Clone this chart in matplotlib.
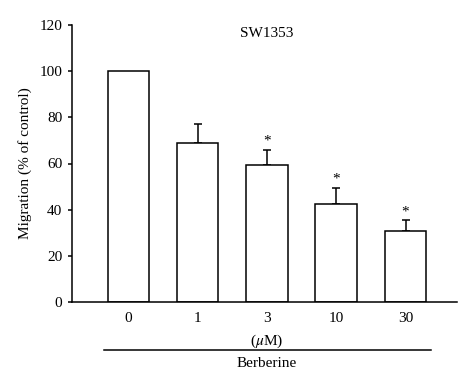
import matplotlib
matplotlib.use('Agg')
import matplotlib.pyplot as plt
import matplotlib.transforms as mtransforms

# Datos
doses = ["0", "1", "3", "10", "30"]
migration = [100, 69, 59.3, 42.6, 30.9]
sem = [0, 8, 6.7, 7, 4.6]
significant = [False, False, True, True, True]

plt.rcParams['font.family'] = ['Liberation Serif', 'DejaVu Serif']
plt.rcParams['mathtext.fontset'] = 'stix'

fs = 11
lw = 1.1

fig = plt.figure(figsize=(4.74, 3.9), dpi=100)
ax = fig.add_axes([72 / 474, 1 - 302 / 390, (457 - 72) / 474, (302 - 25) / 390])

x = list(range(len(doses)))
ax.bar(x, migration, width=0.6, color='white', edgecolor='black', linewidth=lw, zorder=2)
ax.errorbar(x[1:], migration[1:], yerr=[[0] * (len(x) - 1), sem[1:]],
            fmt='none', ecolor='black', elinewidth=lw, capsize=3.2, capthick=lw, zorder=1)

for xi, m, e, s in zip(x, migration, sem, significant):
    if s:
        ax.text(xi, m + e + 0.8, "*", ha='center', va='bottom', fontsize=fs)

ax.set_xlim(-0.814, 4.743)
ax.set_ylim(0, 120)
ax.set_yticks(range(0, 121, 20))
ax.set_xticks(x)
ax.set_xticklabels(doses)
ax.tick_params(axis='x', length=0, pad=7, labelsize=fs)
ax.tick_params(axis='y', length=3, width=lw, pad=4, labelsize=fs, direction='out')
for side in ['top', 'right']:
    ax.spines[side].set_visible(False)
for side in ['left', 'bottom']:
    ax.spines[side].set_linewidth(lw)

ax.set_ylabel("Migration (% of control)", fontsize=fs, labelpad=5)
ax.text(2, 116.5, "SW1353", ha='center', va='center', fontsize=fs)

# Etiquetas bajo el eje
trans = mtransforms.blended_transform_factory(ax.transData, ax.transAxes)
ax.text(2, -0.141, r"($\mu$M)", transform=trans, ha='center', va='center', fontsize=fs)
ax.plot([-0.357, 4.371], [-0.173, -0.173], transform=trans, color='black',
        linewidth=lw, clip_on=False)
ax.text(2, -0.222, "Berberine", transform=trans, ha='center', va='center', fontsize=fs)

fig.savefig("out.png", dpi=100)
